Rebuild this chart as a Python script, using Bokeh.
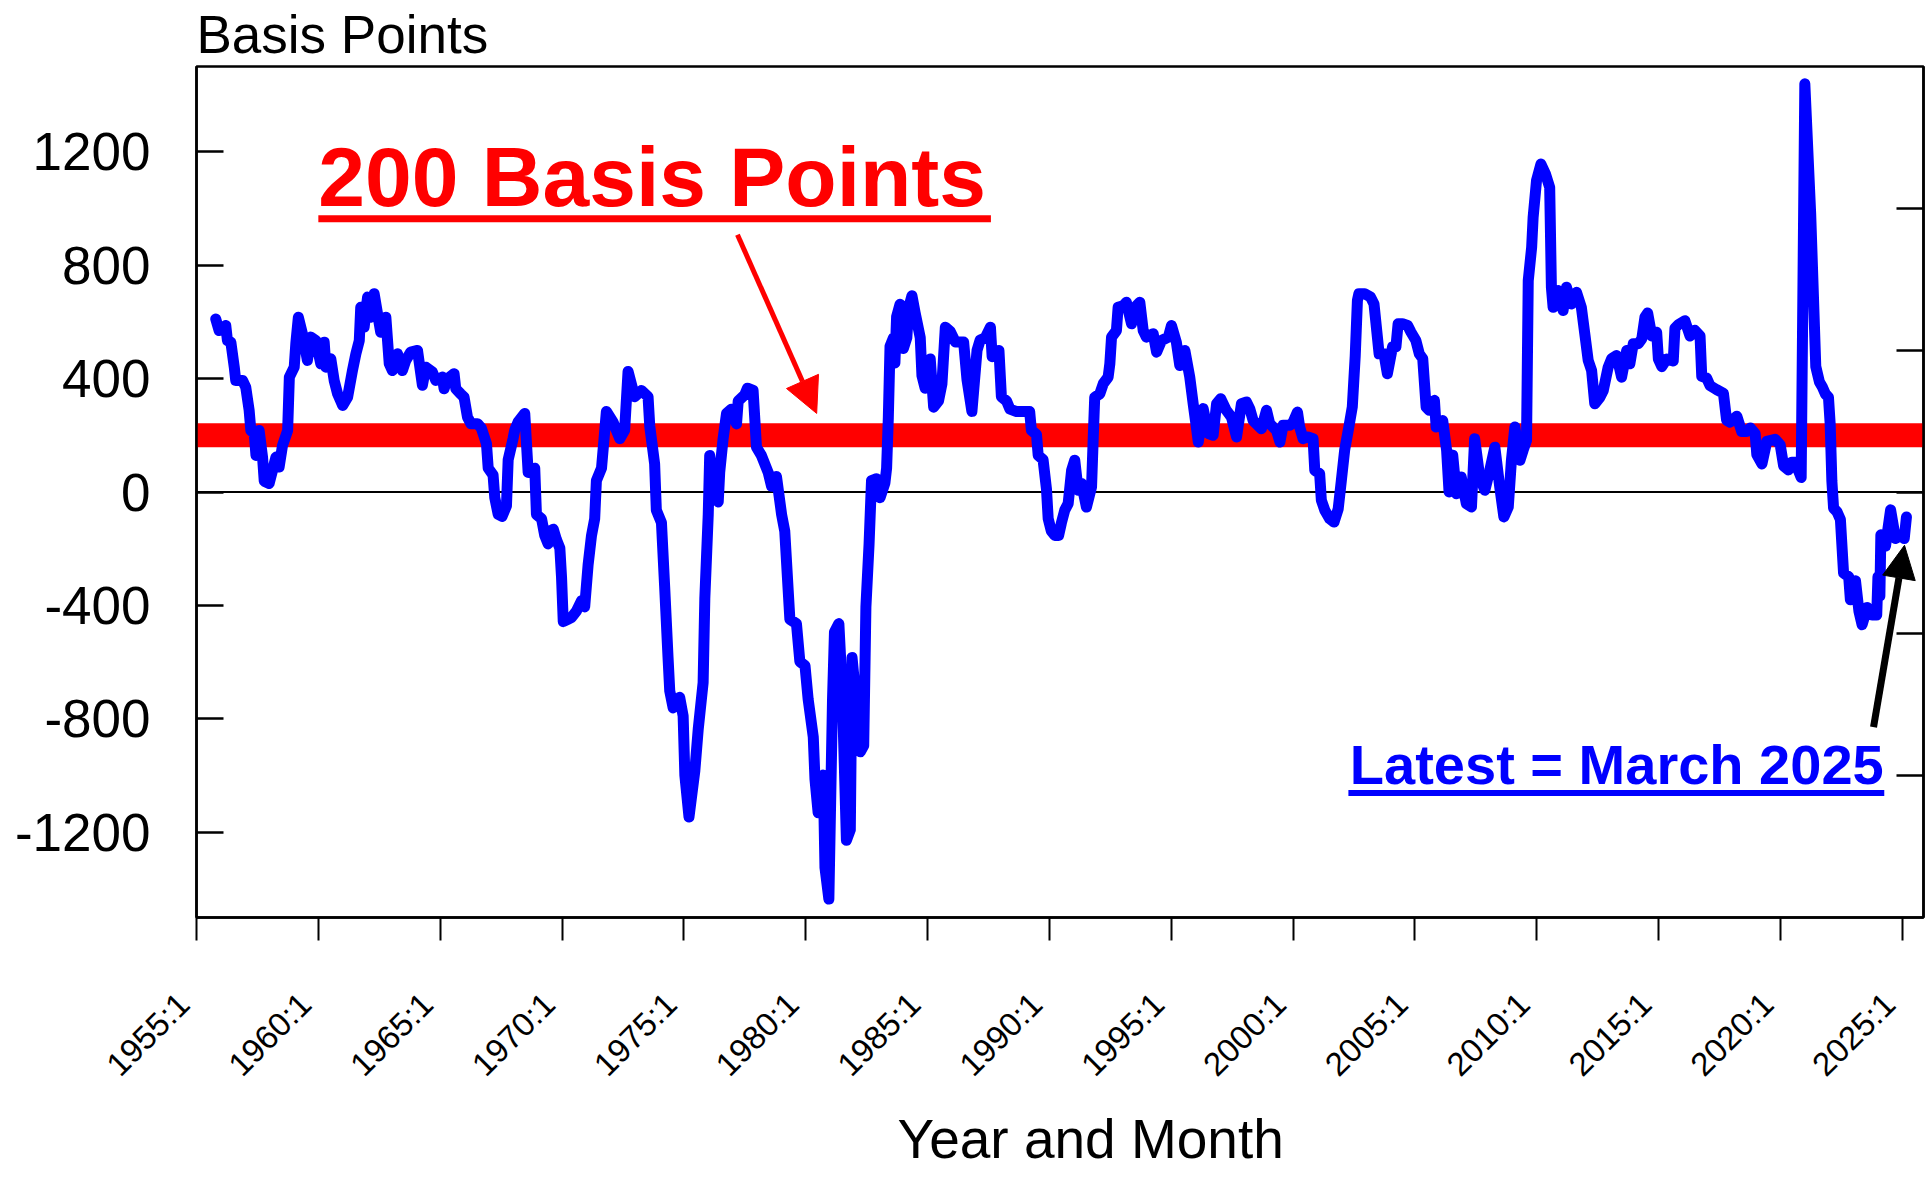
import math
from bokeh.plotting import figure
from bokeh.models import Range1d, LinearAxis, FixedTicker, Span, Label, Arrow, NormalHead, Title
from bokeh.embed import file_html
from bokeh.resources import INLINE

# ---------------- data ----------------
date_yr = [
    1955.79, 1955.93, 1956.20, 1956.27, 1956.41, 1956.55, 1956.61, 1956.89, 1957.02, 1957.16,
    1957.23, 1957.37, 1957.44, 1957.57, 1957.71, 1957.78, 1957.98, 1958.12, 1958.26, 1958.39,
    1958.53, 1958.74, 1958.81, 1959.01, 1959.08, 1959.18, 1959.38, 1959.55, 1959.69, 1959.90,
    1960.10, 1960.24, 1960.31, 1960.51, 1960.65, 1960.79, 1961.00, 1961.20, 1961.40, 1961.54,
    1961.68, 1961.74, 1961.88, 1962.02, 1962.15, 1962.29, 1962.43, 1962.56, 1962.77, 1962.91,
    1963.04, 1963.25, 1963.45, 1963.59, 1963.79, 1964.07, 1964.27, 1964.41, 1964.68, 1964.82,
    1965.09, 1965.16, 1965.30, 1965.57, 1965.64, 1965.84, 1965.98, 1966.12, 1966.26, 1966.53,
    1966.69, 1966.90, 1966.97, 1967.17, 1967.24, 1967.38, 1967.54, 1967.72, 1967.79, 1967.99,
    1968.06, 1968.20, 1968.47, 1968.61, 1968.88, 1968.95, 1969.16, 1969.29, 1969.43, 1969.50,
    1969.64, 1969.77, 1969.91, 1969.98, 1970.05, 1970.25, 1970.39, 1970.59, 1970.80, 1970.93,
    1971.07, 1971.21, 1971.34, 1971.41, 1971.62, 1971.82, 1972.09, 1972.37, 1972.57, 1972.71,
    1972.98, 1973.26, 1973.53, 1973.60, 1973.80, 1973.87, 1974.08, 1974.21, 1974.35, 1974.42,
    1974.56, 1974.83, 1974.97, 1975.04, 1975.21, 1975.45, 1975.59, 1975.79, 1975.86, 1976.00,
    1976.06, 1976.27, 1976.41, 1976.47, 1976.61, 1976.75, 1976.95, 1977.16, 1977.23, 1977.50,
    1977.61, 1977.84, 1977.98, 1978.18, 1978.46, 1978.60, 1978.80, 1979.01, 1979.14, 1979.28,
    1979.35, 1979.62, 1979.76, 1979.97, 1980.10, 1980.31, 1980.38, 1980.51, 1980.72, 1980.79,
    1980.95, 1981.10, 1981.18, 1981.36, 1981.50, 1981.67, 1981.83, 1981.90, 1982.03, 1982.24,
    1982.38, 1982.47, 1982.60, 1982.70, 1982.91, 1983.05, 1983.25, 1983.32, 1983.39, 1983.46,
    1983.60, 1983.66, 1983.73, 1983.87, 1984.01, 1984.15, 1984.22, 1984.36, 1984.49, 1984.70,
    1984.77, 1984.90, 1985.11, 1985.25, 1985.45, 1985.59, 1985.73, 1985.93, 1986.14, 1986.48,
    1986.62, 1986.82, 1987.03, 1987.16, 1987.37, 1987.58, 1987.65, 1987.93, 1988.03, 1988.24,
    1988.38, 1988.65, 1988.99, 1989.19, 1989.26, 1989.47, 1989.54, 1989.74, 1989.88, 1989.95,
    1990.08, 1990.22, 1990.38, 1990.49, 1990.63, 1990.77, 1990.91, 1991.04, 1991.18, 1991.32,
    1991.52, 1991.73, 1991.80, 1991.86, 1992.07, 1992.21, 1992.41, 1992.48, 1992.55, 1992.75,
    1992.82, 1993.03, 1993.16, 1993.37, 1993.51, 1993.71, 1993.85, 1993.98, 1994.26, 1994.40,
    1994.60, 1994.88, 1995.01, 1995.21, 1995.35, 1995.56, 1995.76, 1995.90, 1996.04, 1996.11,
    1996.31, 1996.52, 1996.72, 1996.86, 1997.03, 1997.26, 1997.47, 1997.68, 1997.88, 1998.09,
    1998.22, 1998.36, 1998.70, 1998.91, 1999.04, 1999.32, 1999.46, 1999.59, 1999.86, 2000.00,
    2000.18, 2000.27, 2000.41, 2000.61, 2000.82, 2000.89, 2001.09, 2001.16, 2001.30, 2001.50,
    2001.68, 2001.85, 2001.98, 2002.12, 2002.29, 2002.43, 2002.55, 2002.64, 2002.70, 2002.94,
    2003.18, 2003.32, 2003.46, 2003.53, 2003.73, 2003.87, 2004.08, 2004.22, 2004.31, 2004.49,
    2004.70, 2004.84, 2005.04, 2005.18, 2005.32, 2005.46, 2005.59, 2005.80, 2005.87, 2006.14,
    2006.30, 2006.40, 2006.55, 2006.70, 2006.90, 2007.11, 2007.32, 2007.45, 2007.66, 2007.87,
    2008.07, 2008.28, 2008.48, 2008.65, 2008.83, 2008.96, 2009.10, 2009.31, 2009.44, 2009.58,
    2009.65, 2009.79, 2009.85, 2009.99, 2010.17, 2010.36, 2010.53, 2010.60, 2010.67, 2010.88,
    2011.08, 2011.22, 2011.42, 2011.63, 2011.83, 2011.97, 2012.11, 2012.25, 2012.38, 2012.59,
    2012.73, 2012.93, 2013.07, 2013.28, 2013.48, 2013.69, 2013.82, 2013.96, 2014.17, 2014.31,
    2014.44, 2014.55, 2014.72, 2014.92, 2014.99, 2015.13, 2015.33, 2015.60, 2015.67, 2015.81,
    2016.08, 2016.29, 2016.49, 2016.70, 2016.77, 2016.97, 2017.11, 2017.38, 2017.66, 2017.79,
    2017.93, 2018.21, 2018.41, 2018.62, 2018.76, 2018.96, 2019.03, 2019.24, 2019.44, 2019.78,
    2019.99, 2020.13, 2020.33, 2020.47, 2020.60, 2020.85, 2021.00, 2021.24, 2021.45, 2021.60,
    2021.72, 2021.85, 2021.97, 2022.04, 2022.11, 2022.18, 2022.32, 2022.46, 2022.59, 2022.80,
    2022.87, 2023.08, 2023.22, 2023.35, 2023.56, 2023.76, 2023.95, 2024.00, 2024.08, 2024.12,
    2024.31, 2024.52, 2024.72, 2024.93, 2025.08, 2025.17,
]
spread_bp = [
    610, 569, 587, 534, 528, 440, 393, 393, 370, 288,
    217, 206, 129, 217, 123, 38, 30, 76, 123, 88,
    164, 217, 405, 440, 528, 616, 546, 464, 546, 534,
    452, 528, 440, 470, 393, 346, 305, 334, 428, 487,
    534, 651, 581, 687, 616, 699, 628, 563, 616, 452,
    428, 487, 428, 464, 493, 499, 376, 440, 423, 393,
    405, 364, 399, 417, 364, 346, 334, 264, 241, 241,
    225, 170, 84, 60, -20, -79, -86, -49, 114, 188,
    218, 247, 277, 69, 84, -79, -94, -153, -183, -138,
    -131, -168, -198, -301, -457, -449, -442, -420, -383, -405,
    -257, -153, -94, 40, 84, 284, 247, 188, 218, 425,
    336, 358, 336, 232, 99, -64, -108, -331, -583, -701,
    -761, -724, -790, -998, -1146, -983, -835, -672, -375, -79,
    129, -20, -35, 69, 188, 277, 292, 240, 321, 343,
    366, 358, 158, 129, 69, 20, 55, -79, -138, -346,
    -449, -464, -598, -612, -731, -864, -1013, -1131, -998, -1324,
    -1435, -731, -494, -464, -701, -1228, -1191, -583, -701, -916,
    -894, -405, -183, 40, 47, -20, 32, 84, 262, 514,
    544, 455, 618, 662, 506, 544, 647, 692, 632, 544,
    410, 366, 469, 299, 321, 381, 581, 566, 529, 529,
    395, 284, 499, 536, 544, 581, 477, 499, 336, 321,
    292, 284, 284, 284, 218, 203, 129, 114, 10, -94,
    -138, -153, -153, -110, -64, -41, 76, 112, 6, 30,
    -53, 18, 194, 334, 346, 382, 405, 452, 546, 569,
    651, 657, 669, 593, 651, 669, 569, 546, 558, 493,
    534, 546, 587, 528, 446, 499, 405, 311, 223, 176,
    294, 206, 200, 311, 329, 288, 264, 194, 311, 317,
    294, 252, 223, 288, 241, 217, 176, 235, 235, 246,
    282, 229, 188, 194, 188, 76, 65, -29, -64, -94,
    -106, -60, 40, 150, 230, 300, 480, 675, 699, 699,
    687, 663, 546, 487, 487, 417, 511, 511, 593, 593,
    587, 563, 534, 487, 470, 299, 288, 323, 229, 252,
    147, 0, 130, -6, 53, -41, -53, 188, 53, 6,
    76, 158, 18, -88, -53, 112, 229, 112, 147, 182,
    745, 863, 968, 1098, 1156, 1121, 1074, 722, 651, 710,
    640, 722, 663, 704, 651, 558, 464, 428, 311, 334,
    358, 440, 470, 481, 405, 499, 452, 523, 523, 540,
    617, 631, 550, 563, 469, 442, 469, 462, 577, 590,
    604, 550, 570, 550, 408, 402, 375, 361, 348, 253,
    246, 267, 213, 213, 226, 206, 132, 99, 179, 186,
    166, 92, 78, 105, 105, 51, 1439, 981, 442, 388,
    370, 345, 334, 240, 38, -57, -70, -97, -286, -299,
    -380, -313, -420, -468, -407, -434, -434, -299, -366, -151,
    -191, -63, -164, -151, -164, -88,
]

x_tick_years = [1955, 1960, 1965, 1970, 1975, 1980, 1985, 1990, 1995, 2000, 2005, 2010, 2015, 2020, 2025]
x_tick_labels = ["1955:1", "1960:1", "1965:1", "1970:1", "1975:1", "1980:1", "1985:1", "1990:1",
                 "1995:1", "2000:1", "2005:1", "2010:1", "2015:1", "2020:1", "2025:1"]
y_left_ticks = [-1200, -800, -400, 0, 400, 800, 1200]
y_left_labels = ["-1200", "-800", "-400", "0", "400", "800", "1200"]
y_right_ticks = [-1000, -500, 0, 500, 1000]
reference_level_bp = 200

FONT = "Liberation Sans"
NBSP2 = "\u00a0\u00a0"   # trailing padding: nudges the rotated tick labels left of their ticks

p = figure(width=1932, height=1178,
           x_range=Range1d(1955.0, 2025.87), y_range=Range1d(-1500, 1500),
           output_backend="svg", toolbar_location=None,
           min_border_left=196, min_border_right=9, min_border_top=65, min_border_bottom=261,
           background_fill_color="white", border_fill_color="white")
p.grid.visible = False
p.outline_line_color = "black"
p.outline_line_width = 2.5

# title ("Basis Points")
p.title.text = "Basis Points"
p.title.align = "left"
p.title.offset = 0
p.title.standoff = 5
p.title.text_font = FONT
p.title.text_font_size = "53px"
p.title.text_font_style = "normal"
p.title.text_color = "black"

# left axis
ya = p.yaxis[0]
ya.ticker = FixedTicker(ticks=y_left_ticks)
ya.major_label_overrides = {float(t): lab for t, lab in zip(y_left_ticks, y_left_labels)}
ya.major_tick_in = 27
ya.major_tick_out = 0
ya.minor_tick_in = 0
ya.minor_tick_out = 0
ya.axis_line_width = 2.5
ya.major_tick_line_width = 2.5
ya.major_label_text_font = FONT
ya.major_label_text_font_size = "53px"
ya.major_label_text_color = "black"
ya.major_label_standoff = 46

# bottom axis
xa = p.xaxis[0]
xa.ticker = FixedTicker(ticks=x_tick_years)
xa.major_label_overrides = {float(y): lab + NBSP2 for y, lab in zip(x_tick_years, x_tick_labels)}
xa.major_tick_in = 0
xa.major_tick_out = 23
xa.minor_tick_in = 0
xa.minor_tick_out = 0
xa.axis_line_width = 2.5
xa.major_tick_line_width = 2
xa.major_label_orientation = math.pi / 4
xa.major_label_text_font = FONT
xa.major_label_text_font_size = "33px"
xa.major_label_text_color = "black"
xa.major_label_standoff = 45

# x axis title
p.add_layout(Title(text="Year and Month", align="left", offset=701, standoff=14, vertical_align="bottom",
                   text_font=FONT, text_font_size="55px", text_font_style="normal", text_color="black"),
             "below")

# right axis (ticks only)
ra = LinearAxis(ticker=FixedTicker(ticks=y_right_ticks), major_tick_in=27, major_tick_out=0,
                minor_tick_in=0, minor_tick_out=0, axis_line_width=2.5, major_tick_line_width=2.5,
                major_label_text_font_size="0px", major_label_standoff=0)
p.add_layout(ra, "right")

# reference band and zero line
band = Span(location=reference_level_bp, dimension="width", line_color="#FF0000", line_width=24, level="underlay")
zero = Span(location=0, dimension="width", line_color="black", line_width=2, level="underlay")
p.add_layout(band)
p.add_layout(zero)

# series
p.line(date_yr, spread_bp, line_color="#0000FF", line_width=11, line_join="round", line_cap="round")

# in-plot annotations (text_baseline "bottom": anchor sits one descent below the baseline)
p.add_layout(Label(x=1960.0, y=945, text="200 Basis Points", text_font=FONT, text_font_style="bold",
                   text_font_size="84px", text_color="#FF0000", text_align="left", text_baseline="bottom"))
p.add_layout(Arrow(start=None, end=None, x_start=1960.0, y_start=963, x_end=1987.6, y_end=963,
                   line_color="#FF0000", line_width=7))

p.add_layout(Label(x=2002.33, y=-1071, text="Latest = March 2025", text_font=FONT, text_font_style="bold",
                   text_font_size="56px", text_color="#0000FF", text_align="left", text_baseline="bottom"))
p.add_layout(Arrow(start=None, end=None, x_start=2002.27, y_start=-1061, x_end=2024.26, y_end=-1061,
                   line_color="#0000FF", line_width=6))

# arrows
p.add_layout(Arrow(end=NormalHead(size=35, fill_color="#FF0000", line_color="#FF0000"),
                   x_start=1977.2, y_start=907, x_end=1980.45, y_end=277,
                   line_color="#FF0000", line_width=5))
p.add_layout(Arrow(end=NormalHead(size=33, fill_color="black", line_color="black"),
                   x_start=2023.82, y_start=-829, x_end=2025.09, y_end=-188,
                   line_color="black", line_width=7))

open("out.html", "w").write(file_html(p, INLINE))
